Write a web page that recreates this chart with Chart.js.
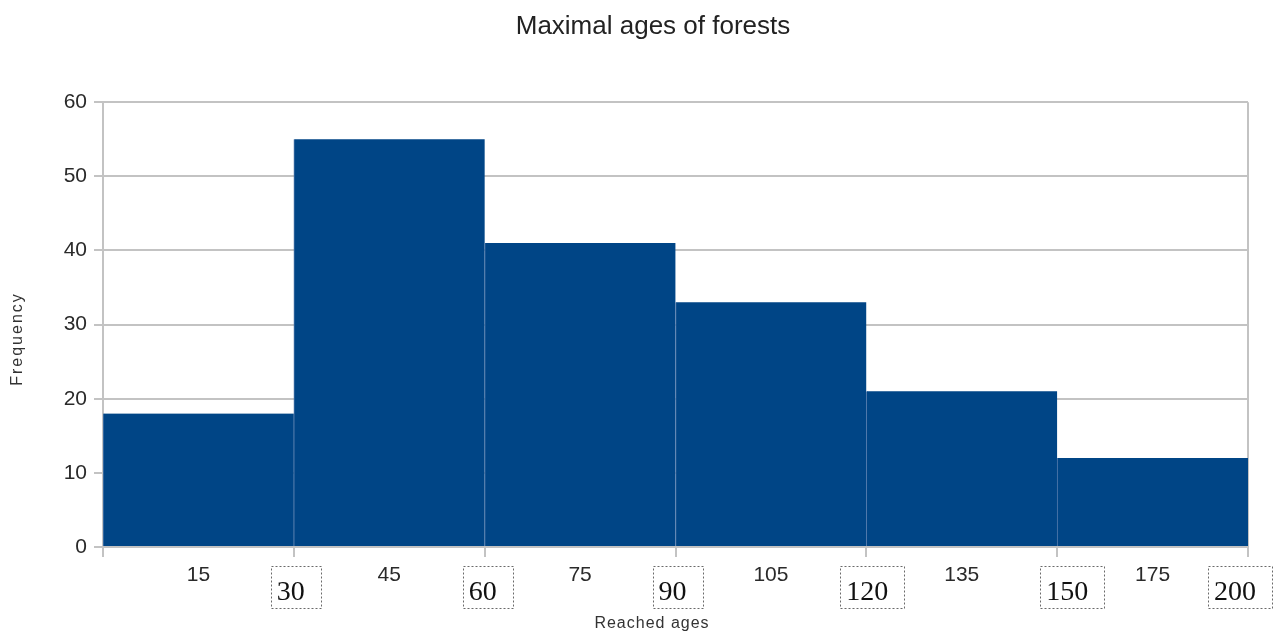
<!DOCTYPE html>
<html>
<head>
<meta charset="utf-8">
<script src="https://cdn.jsdelivr.net/npm/chart.js@4/dist/chart.umd.min.js"></script>
<style>
  html, body { margin: 0; padding: 0; background: #ffffff; overflow: hidden; }
</style>
</head>
<body>
<canvas id="chart" width="1277" height="636"></canvas>
<script>
// Histogram data: one bar per age class
const chartTitle = 'Maximal ages of forests';
const xAxisTitle = 'Reached ages';
const yAxisTitle = 'Frequency';
const midLabels = ['15', '45', '75', '105', '135', '175'];   // printed under each bar
const edgeLabels = ['30', '60', '90', '120', '150', '200'];  // class limits, boxed
const frequencies = [18, 55, 41, 33, 21, 12];
const yMin = 0, yMax = 60, yStep = 10;

// Styling
const SANS = "'Liberation Sans', Arial, sans-serif";
const SERIF = "'Liberation Serif', 'Times New Roman', serif";
const BAR_FILL = '#004586';
const BAR_EDGE = '#4f78ab';
const GRID = '#c3c3c3';
const edgeNudge = [-3, -2, -3, 1, 10, -13];   // small horizontal shifts of boxed limit labels

const isWhole = v => Math.abs(v - Math.round(v)) < 1e-6;

// Axis titles and boxed class-limit labels
const annotations = {
  id: 'annotations',
  afterDraw(chart) {
    const ctx = chart.ctx;
    const xs = chart.scales.x;
    const area = chart.chartArea;

    // boxed limit labels at the bar edges
    ctx.save();
    ctx.font = '28px ' + SERIF;
    ctx.fillStyle = '#111';
    ctx.textAlign = 'center';
    ctx.textBaseline = 'alphabetic';
    const baseline = area.bottom + 53;
    edgeLabels.forEach((lab, i) => {
      const px = xs.getPixelForValue(i + 1) + edgeNudge[i];
      const w = ctx.measureText(lab).width;
      ctx.fillText(lab, px, baseline);
      const left = Math.round(px - w / 2 - 6) + 0.5;
      const right = Math.round(px + w / 2 + 16) + 0.5;
      const top = area.bottom + 19 + 0.5;
      const bottom = area.bottom + 61 + 0.5;
      ctx.save();
      ctx.strokeStyle = '#6a6a6a';
      ctx.lineWidth = 1;
      ctx.setLineDash([2, 2]);
      ctx.strokeRect(left, top, right - left, bottom - top);
      ctx.restore();
    });
    ctx.restore();

    // axis titles
    ctx.save();
    ctx.fillStyle = '#333';
    ctx.font = '16px ' + SANS;
    ctx.textAlign = 'center';
    ctx.textBaseline = 'middle';
    try { ctx.letterSpacing = '1px'; } catch (e) {}
    ctx.fillText(xAxisTitle, 652, 624);
    ctx.translate(18, 339);
    ctx.rotate(-Math.PI / 2);
    try { ctx.letterSpacing = '2px'; } catch (e) {}
    ctx.fillText(yAxisTitle, 0, 0);
    ctx.restore();
  }
};

new Chart(document.getElementById('chart'), {
  type: 'bar',
  data: {
    datasets: [{
      data: frequencies.map((f, i) => ({ x: i + 0.5, y: f })),
      backgroundColor: BAR_FILL,
      borderColor: BAR_EDGE,
      borderWidth: { left: 1, right: 0, top: 0, bottom: 0 },
      borderSkipped: false,
      barThickness: 'flex',
      barPercentage: 1,
      categoryPercentage: 1
    }]
  },
  options: {
    responsive: false,
    animation: false,
    layout: { padding: { left: 58, right: 29, top: 0, bottom: 17 } },
    plugins: {
      legend: { display: false },
      tooltip: { enabled: false },
      title: {
        display: true,
        text: chartTitle,
        color: '#222',
        font: { family: SANS, size: 26, weight: 'normal' },
        padding: { top: 11, bottom: 60 }
      }
    },
    scales: {
      x: {
        type: 'linear',
        min: 0,
        max: midLabels.length,
        offset: false,
        afterFit: s => { s.height = 72; },
        grid: {
          offset: false,
          drawOnChartArea: true,
          color: c => (c.tick && Math.abs(c.tick.value - midLabels.length) < 1e-6) ? GRID : 'rgba(0,0,0,0)',
          lineWidth: 2,
          tickLength: 10,
          tickColor: c => (c.tick && isWhole(c.tick.value)) ? GRID : 'rgba(0,0,0,0)',
          tickWidth: 2
        },
        border: { display: true, color: GRID, width: 2 },
        ticks: {
          stepSize: 0.5,
          autoSkip: false,
          maxRotation: 0,
          minRotation: 0,
          padding: 6,
          color: '#2a2a2a',
          font: { family: SANS, size: 21 },
          callback: v => {
            if (isWhole(v)) return '';
            return midLabels[Math.floor(v)];
          }
        }
      },
      y: {
        min: yMin,
        max: yMax,
        afterFit: s => { s.width = 45; },
        grid: {
          color: GRID,
          lineWidth: 2,
          tickLength: 9,
          tickColor: GRID
        },
        border: { display: true, color: GRID, width: 2 },
        ticks: {
          stepSize: yStep,
          padding: 7,
          color: '#2a2a2a',
          font: { family: SANS, size: 21 }
        }
      }
    }
  },
  plugins: [annotations]
});
</script>
</body>
</html>
